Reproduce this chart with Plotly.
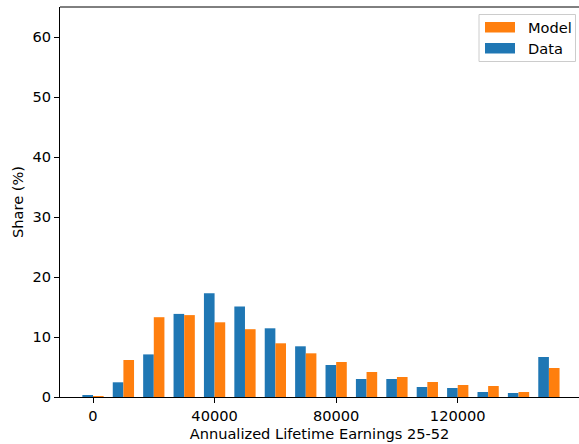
import plotly.graph_objects as go

# Earnings bins (lower edge, USD) and share of individuals in each bin (%)
bins = [0, 10000, 20000, 30000, 40000, 50000, 60000, 70000,
        80000, 90000, 100000, 110000, 120000, 130000, 140000, 150000]
data_share = [0.17, 2.45, 7.1, 13.85, 17.3, 15.1, 11.45, 8.45,
              5.33, 3.0, 3.0, 1.67, 1.5, 0.83, 0.67, 6.67]
model_share = [0.15, 6.17, 13.3, 13.65, 12.45, 11.3, 8.95, 7.28,
               5.83, 4.17, 3.33, 2.5, 2.0, 1.83, 0.83, 4.83]
x_ticks = [0, 40000, 80000, 120000]
y_ticks = [0, 10, 20, 30, 40, 50, 60]

BLUE = "#1f77b4"
ORANGE = "#ff7f0e"
FONT = "DejaVu Sans"
FS = 14.6
BAR_W = 3500

W, H = 579, 444
ML, MR, MT, MB = 60, 0, 7, 47
PW, PH = W - ML - MR, H - MT - MB


def px(x):
    return (x - ML) / PW


def py(y):
    return (H - MB - y) / PH


fig = go.Figure()
fig.add_trace(go.Bar(x=bins, y=data_share, width=BAR_W, offset=-BAR_W,
                     marker=dict(color=BLUE, line=dict(width=0)),
                     name="Data", showlegend=False))
fig.add_trace(go.Bar(x=bins, y=model_share, width=BAR_W, offset=0,
                     marker=dict(color=ORANGE, line=dict(width=0)),
                     name="Model", showlegend=False))

# top spine (no right spine)
shapes = [dict(type="line", xref="paper", yref="paper", x0=0, x1=1, y0=1, y1=1,
               line=dict(color="black", width=1))]

# legend box with patches
shapes.append(dict(type="rect", xref="paper", yref="paper",
                   x0=px(479), x1=px(575.5), y0=py(61.5), y1=py(14.5),
                   line=dict(color="#cccccc", width=1),
                   fillcolor="rgba(255,255,255,0.8)", layer="above"))
legend_items = [("Model", ORANGE, 22, 32.5), ("Data", BLUE, 43, 53.5)]
annotations = []
for label, color, top, bottom in legend_items:
    shapes.append(dict(type="rect", xref="paper", yref="paper",
                       x0=px(485), x1=px(515), y0=py(bottom), y1=py(top),
                       line=dict(width=0), fillcolor=color, layer="above"))
    annotations.append(dict(text=label, xref="paper", yref="paper",
                            x=px(526), y=py((top + bottom) / 2),
                            xanchor="left", yanchor="middle", showarrow=False,
                            font=dict(family=FONT, size=FS, color="black")))

fig.update_layout(
    width=W, height=H,
    margin=dict(l=ML, r=MR, t=MT, b=MB),
    plot_bgcolor="white", paper_bgcolor="white",
    barmode="overlay",
    font=dict(family=FONT, size=FS, color="black"),
    shapes=shapes, annotations=annotations,
    xaxis=dict(range=[-10860, 159900], tickvals=x_ticks,
               ticktext=[str(v) for v in x_ticks],
               showgrid=False, zeroline=False,
               showline=True, linecolor="black", linewidth=1,
               ticks="outside", ticklen=5, tickwidth=1, tickcolor="black",
               title=dict(text="Annualized Lifetime Earnings 25-52",
                          font=dict(family=FONT, size=FS), standoff=6)),
    yaxis=dict(range=[0, 65], tickvals=y_ticks,
               showgrid=False, zeroline=False,
               showline=True, linecolor="black", linewidth=1,
               ticks="outside", ticklen=5, tickwidth=1, tickcolor="black",
               title=dict(text="Share (%)",
                          font=dict(family=FONT, size=FS), standoff=5)),
)

fig.write_html("out.html")
